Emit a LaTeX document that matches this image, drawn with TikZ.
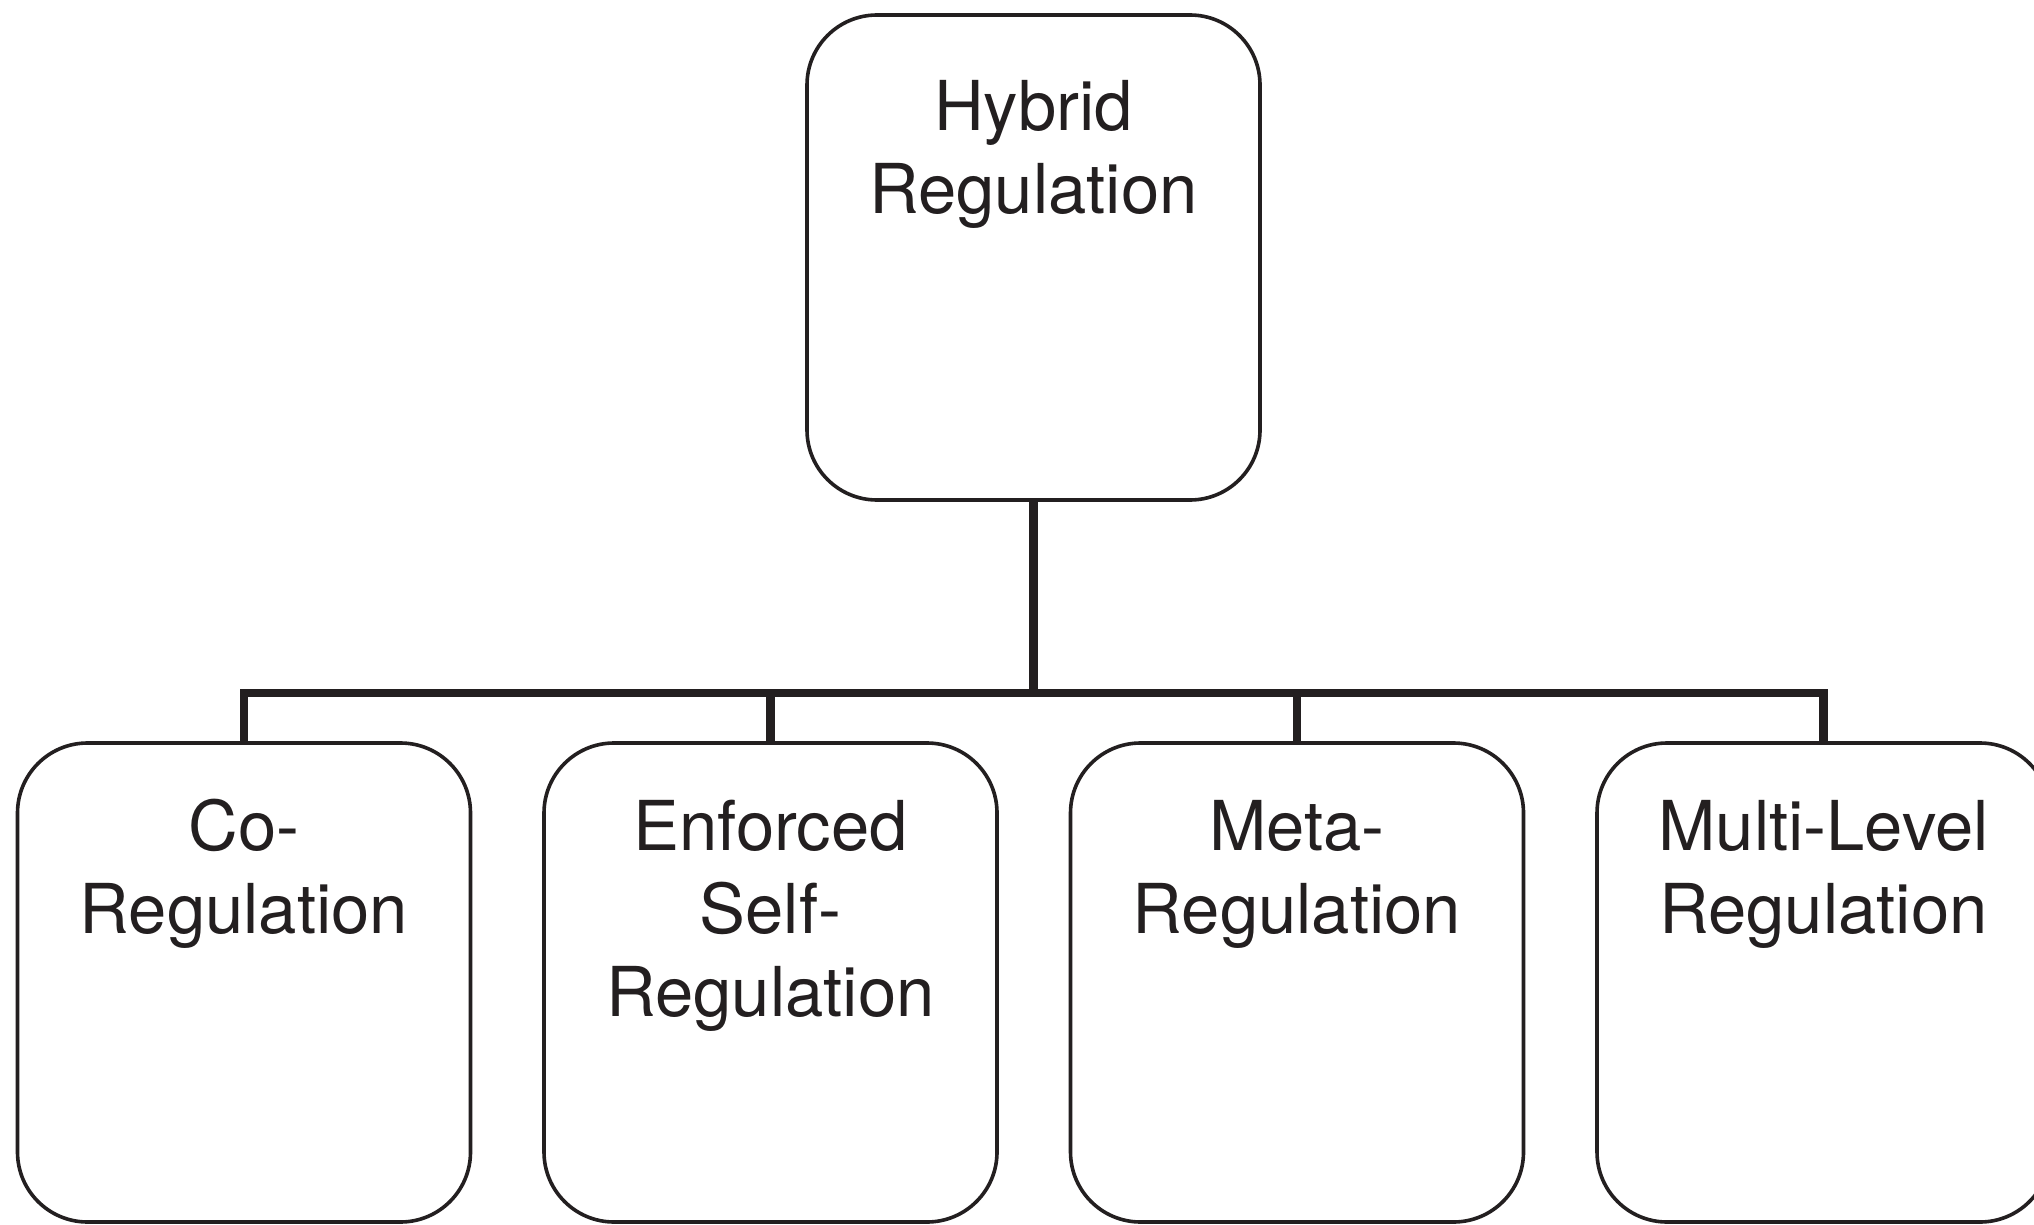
\documentclass[tikz,border=0pt]{standalone}
\usepackage{fontspec}
\setmainfont{TeX Gyre Heros}
\definecolor{ink}{RGB}{35,31,32}
\begin{document}
\begin{tikzpicture}[x=0.5pt,y=-0.5pt,
  box/.style={draw=ink, line width=1.8pt, rounded corners=35pt, fill=white,
    minimum width=226.5pt, inner sep=0pt},
  topbox/.style={box, minimum height=242.5pt},
  subbox/.style={box, minimum height=239.5pt},
  lbl/.style={anchor=north, align=center, inner sep=0pt, text=ink,
    font=\fontsize{34.4}{41.6}\selectfont},
  conn/.style={draw=ink, line width=4.3pt, line join=miter}]
\useasboundingbox (0,0) rectangle (2034,1225);
\clip (0,0) rectangle (2034,1225);
\fill[white] (0,0) rectangle (2034,1225);
% nodes
\node[topbox] (top) at (1033.5,257.5) {};
\node[subbox] (b1) at (244,982.5) {};
\node[subbox] (b2) at (770.5,982.5) {};
\node[subbox] (b3) at (1297,982.5) {};
\node[subbox] (b4) at (1823.5,982.5) {};
\coordinate (hub) at (1033.5,693);
% labels
\node[lbl] (ltop) at (1033.5,72) {\strut Hybrid\\Regulation};
\node[lbl] (l1) at (244,791.5) {\strut Co-\\Regulation};
\node[lbl] (l2) at (770.5,791.5) {\strut Enforced\\Self-\\Regulation};
\node[lbl] (l3) at (1297,791.5) {\strut Meta-\\Regulation};
\node[lbl] (l4) at (1823.5,791.5) {\strut Multi-Level\\Regulation};
% connectors
\draw[conn] (top.south) -- (hub);
\draw[conn] (b1.north) -- (b1.north |- hub) -- (b4.north |- hub) -- (b4.north);
\draw[conn] (b2.north |- hub) -- (b2.north);
\draw[conn] (b3.north |- hub) -- (b3.north);
\end{tikzpicture}
\end{document}
